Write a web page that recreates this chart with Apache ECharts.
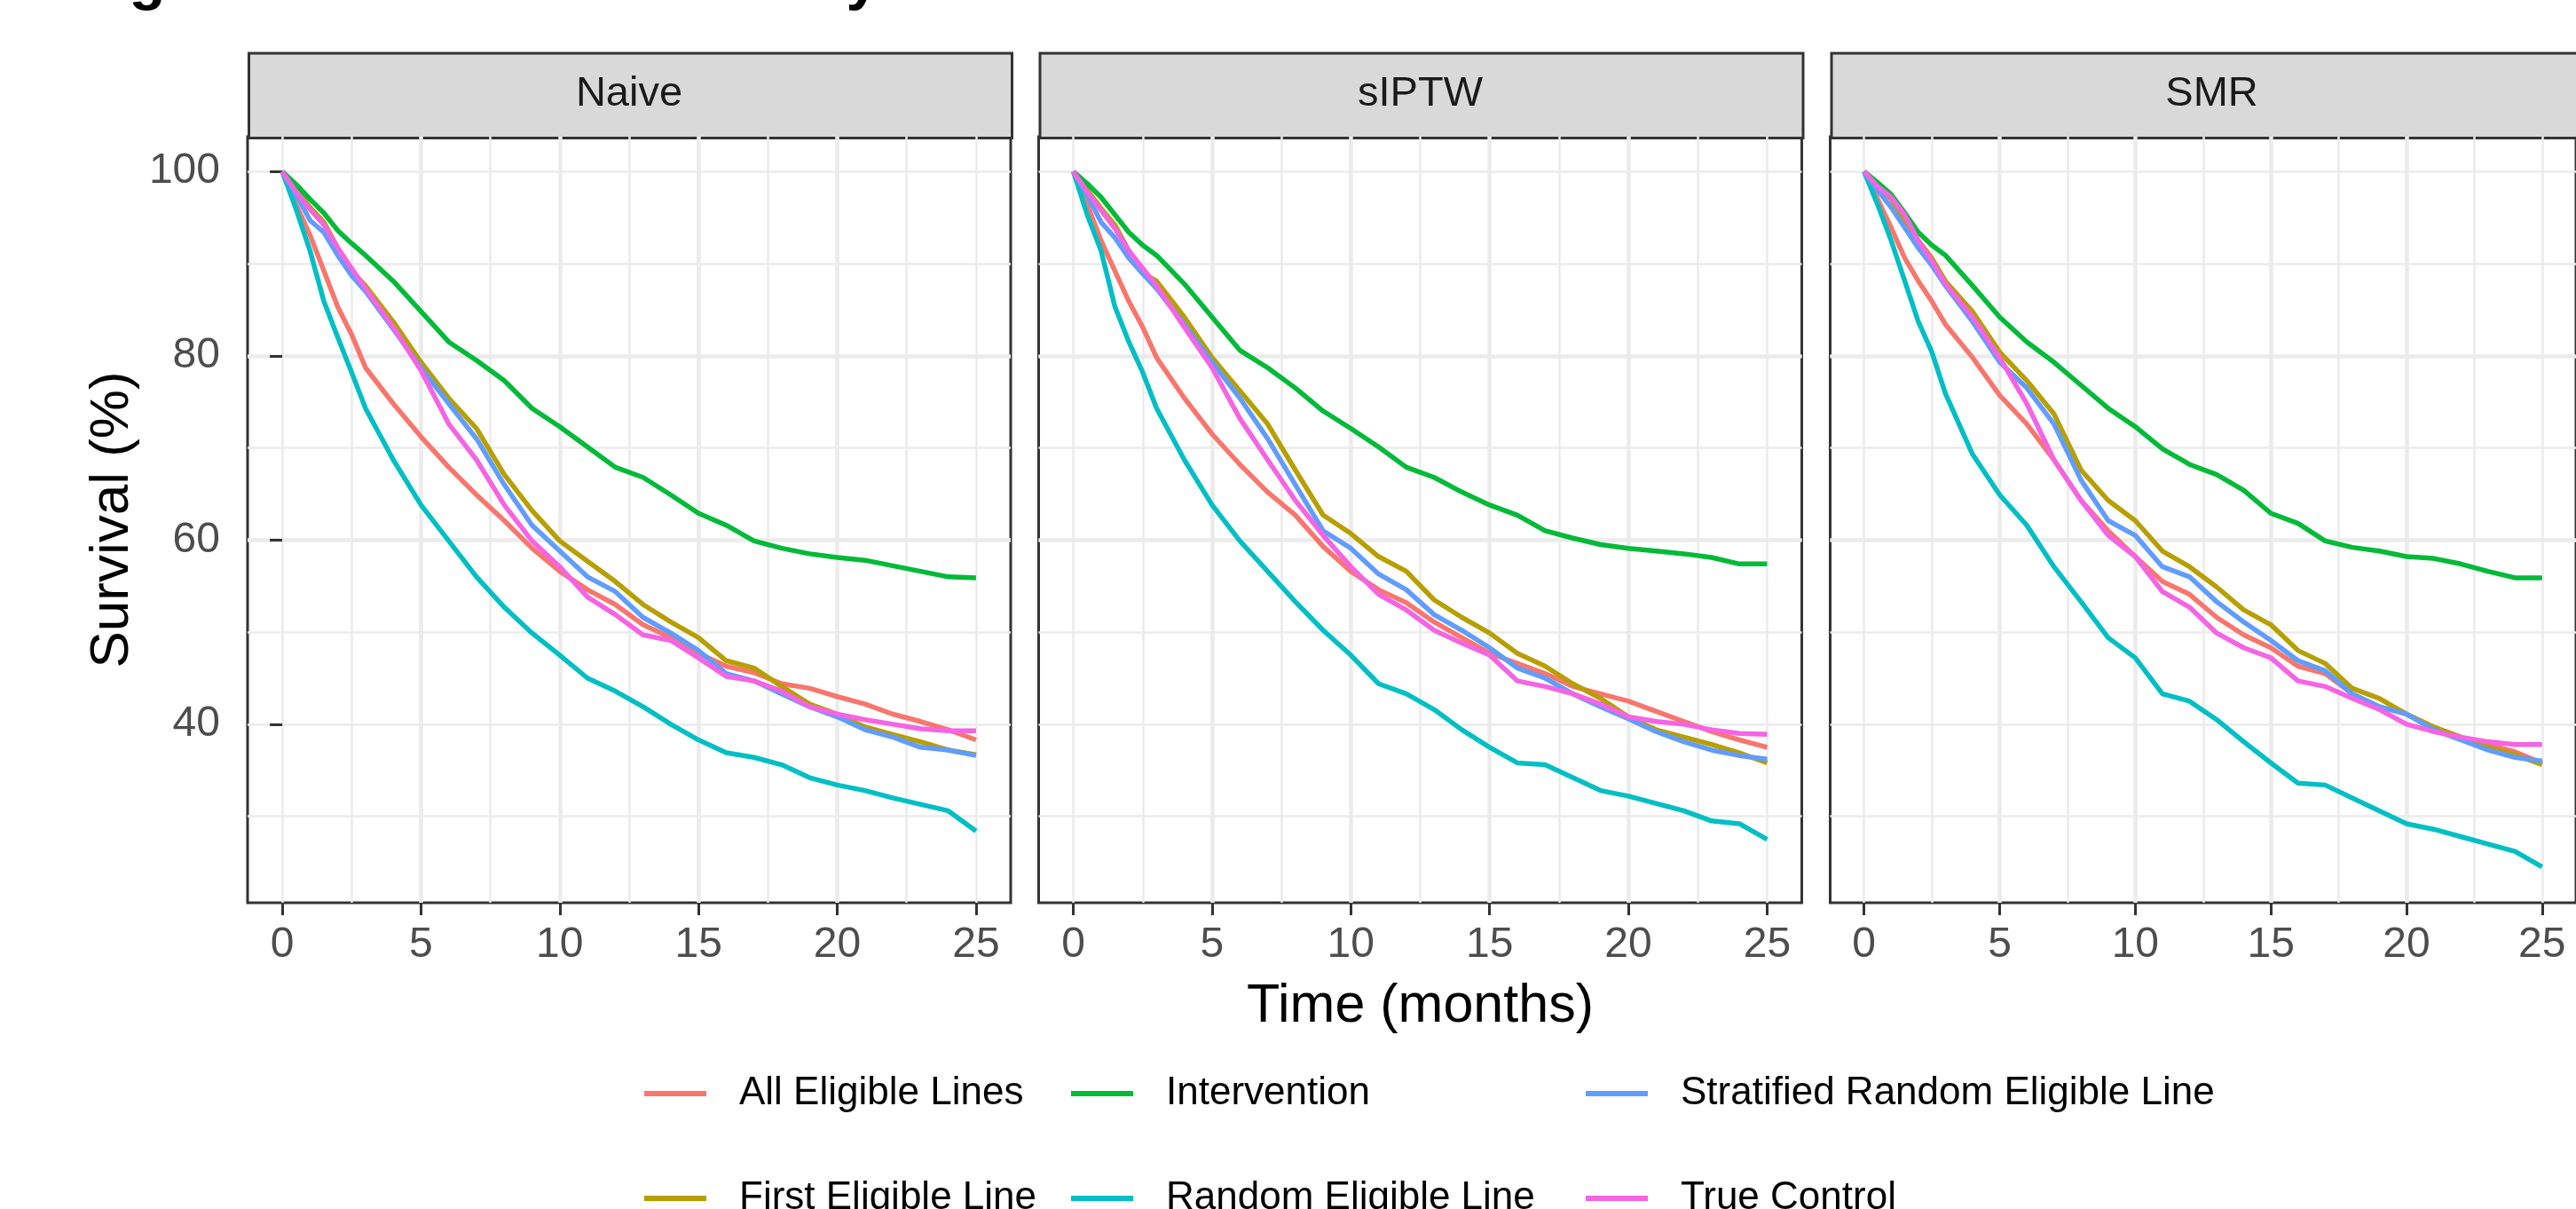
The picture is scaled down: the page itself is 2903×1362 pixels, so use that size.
<!DOCTYPE html>
<html>
<head>
<meta charset="utf-8">
<script src="https://cdn.jsdelivr.net/npm/echarts@6/dist/echarts.min.js"></script>
<style>
  html, body { margin: 0; padding: 0; background: #fff; }
  #chart { width: 2903px; height: 1362px; }
</style>
</head>
<body>
<div id="chart"></div>
<script>
// time points (months)
const times = [0, 0.5, 1, 1.5, 2, 2.5, 3, 4, 5, 6, 7, 8, 9, 10, 11, 12, 13, 14, 15, 16, 17, 18, 19, 20, 21, 22, 23, 24, 25];

const panels = ['Naive', 'sIPTW', 'SMR'];
const groups = ['All Eligible Lines', 'First Eligible Line', 'Intervention', 'Random Eligible Line', 'Stratified Random Eligible Line', 'True Control'];
const colors = ['#F8766D', '#B79F00', '#00BA38', '#00BFC4', '#619CFF', '#F564E3'];

const xTicks = [0, 5, 10, 15, 20, 25];
const yTicks = [40, 60, 80, 100];

// survival (%), one array per panel and group
const naiveAll = [100, 96.4, 93.1, 89.2, 85.3, 82.3, 78.7, 74.8, 71.2, 67.9, 64.9, 62.1, 59.1, 56.6, 54.6, 53.0, 50.8, 49.4, 47.7, 46.3, 45.6, 44.4, 43.9, 43.0, 42.2, 41.1, 40.3, 39.4, 38.3];
const naiveFirst = [100, 98.1, 96.1, 94.5, 91.7, 89.2, 87.6, 83.7, 79.3, 75.4, 72.1, 67.1, 63.2, 59.9, 57.7, 55.5, 53.0, 51.1, 49.4, 46.9, 46.1, 44.1, 42.2, 41.1, 39.7, 38.9, 38.1, 37.2, 36.7];
const naiveInterv = [100, 98.6, 97.0, 95.5, 93.6, 92.2, 90.9, 88.1, 84.8, 81.5, 79.5, 77.3, 74.3, 72.3, 70.1, 67.9, 66.8, 64.9, 62.9, 61.6, 59.9, 59.1, 58.5, 58.1, 57.8, 57.2, 56.6, 56.0, 55.9];
const naiveRandom = [100, 95.9, 91.4, 85.9, 82.0, 78.2, 74.3, 68.7, 63.8, 59.9, 56.0, 52.7, 49.9, 47.5, 45.0, 43.6, 41.9, 40.0, 38.3, 36.9, 36.4, 35.6, 34.2, 33.4, 32.8, 32.0, 31.3, 30.6, 28.4];
const naiveStrat = [100, 97.5, 94.7, 93.4, 90.9, 88.7, 87.0, 82.9, 78.7, 74.8, 71.0, 66.0, 61.6, 58.8, 56.0, 54.4, 51.6, 49.9, 48.0, 45.5, 44.7, 43.3, 41.9, 40.8, 39.4, 38.6, 37.5, 37.2, 36.6];
const naiveTrue = [100, 97.8, 95.9, 94.2, 91.7, 89.5, 87.3, 83.1, 78.4, 72.6, 68.7, 63.8, 59.9, 57.1, 53.8, 51.9, 49.7, 49.1, 47.2, 45.2, 44.7, 43.6, 41.9, 41.1, 40.5, 40.0, 39.5, 39.3, 39.3];

const iptwAll = [100, 96.4, 92.5, 89.2, 85.9, 83.1, 79.8, 75.4, 71.5, 68.2, 65.2, 62.7, 59.3, 56.6, 54.6, 53.2, 51.1, 49.4, 47.7, 46.6, 45.5, 44.1, 43.3, 42.5, 41.4, 40.3, 39.2, 38.3, 37.5];
const iptwFirst = [100, 98.0, 96.0, 94.2, 91.4, 89.0, 88.1, 84.2, 79.8, 76.2, 72.6, 67.6, 62.7, 60.7, 58.2, 56.6, 53.5, 51.6, 49.9, 47.7, 46.3, 44.4, 42.8, 40.8, 39.4, 38.6, 37.8, 36.9, 35.8];
const iptwInterv = [100, 98.7, 97.2, 95.3, 93.4, 92.0, 90.9, 87.8, 84.2, 80.6, 78.7, 76.5, 74.0, 72.1, 70.1, 67.9, 66.8, 65.2, 63.8, 62.7, 61.0, 60.2, 59.5, 59.1, 58.8, 58.5, 58.1, 57.4, 57.4];
const iptwRandom = [100, 95.3, 91.4, 85.3, 81.5, 78.2, 74.3, 68.7, 63.8, 59.9, 56.6, 53.3, 50.2, 47.5, 44.4, 43.3, 41.6, 39.4, 37.5, 35.8, 35.6, 34.2, 32.8, 32.2, 31.4, 30.6, 29.5, 29.2, 27.5];
const iptwStrat = [100, 97.4, 94.5, 92.8, 90.6, 88.9, 87.3, 83.4, 79.3, 75.4, 71.0, 66.0, 61.0, 59.1, 56.3, 54.6, 51.9, 50.2, 48.3, 46.1, 45.0, 43.3, 41.9, 40.6, 39.2, 38.1, 37.2, 36.6, 36.2];
const iptwTrue = [100, 97.8, 95.8, 93.8, 91.4, 89.5, 87.6, 83.1, 78.7, 73.2, 68.7, 64.3, 60.5, 57.1, 54.1, 52.4, 50.2, 48.8, 47.5, 44.7, 44.1, 43.3, 42.2, 40.8, 40.3, 40.0, 39.4, 39.0, 38.9];

const smrAll = [100, 97.0, 93.9, 90.6, 88.1, 85.9, 83.4, 79.8, 75.7, 72.6, 68.7, 64.3, 61.0, 58.2, 55.5, 54.1, 51.6, 49.7, 48.3, 46.3, 45.5, 43.3, 41.9, 41.1, 39.7, 38.6, 37.8, 37.0, 35.8];
const smrFirst = [100, 98.5, 97.0, 94.7, 92.5, 90.6, 88.1, 84.8, 80.4, 77.3, 73.7, 67.6, 64.3, 62.1, 58.8, 57.1, 54.9, 52.4, 50.8, 48.0, 46.6, 43.9, 42.8, 41.1, 39.7, 38.6, 37.5, 36.7, 35.6];
const smrInterv = [100, 98.8, 97.5, 95.5, 93.4, 92.0, 90.9, 87.6, 84.2, 81.5, 79.3, 76.8, 74.3, 72.3, 69.9, 68.2, 67.1, 65.4, 62.9, 61.8, 59.9, 59.2, 58.8, 58.2, 58.0, 57.4, 56.6, 55.9, 55.9];
const smrRandom = [100, 96.4, 92.5, 88.1, 83.7, 80.4, 75.9, 69.3, 64.9, 61.6, 57.1, 53.3, 49.4, 47.2, 43.3, 42.5, 40.5, 38.1, 35.8, 33.6, 33.4, 32.0, 30.6, 29.2, 28.6, 27.8, 27.0, 26.2, 24.5];
const smrStrat = [100, 98.0, 96.1, 93.9, 91.7, 89.8, 87.6, 83.7, 79.3, 76.5, 72.6, 66.5, 62.1, 60.5, 57.1, 56.0, 53.3, 51.1, 49.1, 46.9, 45.8, 43.3, 41.9, 41.1, 39.4, 38.3, 37.2, 36.4, 36.0];
const smrTrue = [100, 98.4, 97.2, 95.3, 92.5, 90.3, 87.8, 84.2, 79.8, 74.8, 68.7, 64.3, 60.5, 58.2, 54.4, 52.7, 49.9, 48.3, 47.2, 44.7, 44.1, 42.8, 41.6, 40.0, 39.2, 38.6, 38.1, 37.8, 37.8];

const panelData = [
  [naiveAll, naiveFirst, naiveInterv, naiveRandom, naiveStrat, naiveTrue],
  [iptwAll, iptwFirst, iptwInterv, iptwRandom, iptwStrat, iptwTrue],
  [smrAll, smrFirst, smrInterv, smrRandom, smrStrat, smrTrue]
];

const FONT = '"Liberation Sans", Arial, sans-serif';
const gridLeft = [279, 1170.5, 2062.5];
const gridW = 860, gridTop = 154, gridH = 863;
const xMin = -1.25, xMax = 26.25, yMin = 20.62, yMax = 103.78;

const chart = echarts.init(document.getElementById('chart'), null, { renderer: 'canvas' });

const grids = [], xAxes = [], yAxes = [], series = [], graphics = [];

panels.forEach((name, k) => {
  grids.push({
    left: gridLeft[k], top: gridTop, width: gridW, height: gridH,
    show: true, backgroundColor: '#fff', borderColor: '#333333', borderWidth: 3
  });

  // major axis
  xAxes.push({
    gridIndex: k, type: 'value', min: xMin, max: xMax,
    minInterval: 5, maxInterval: 5,
    axisLine: { show: false },
    axisTick: { show: true, length: 14, customValues: xTicks, lineStyle: { color: '#333333', width: 3 } },
    axisLabel: { customValues: xTicks, fontSize: 48, color: '#4D4D4D', fontFamily: FONT, margin: 24 },
    splitLine: { show: true, showMinLine: false, showMaxLine: false, lineStyle: { color: '#EBEBEB', width: 4.5 } },
    name: k === 1 ? 'Time (months)' : '',
    nameLocation: 'middle', nameGap: 87,
    nameTextStyle: { fontSize: 61, color: '#000', fontFamily: FONT }
  });
  // minor grid lines
  xAxes.push({
    gridIndex: k, type: 'value', min: xMin, max: xMax, position: 'top',
    minInterval: 2.5, maxInterval: 2.5,
    axisLine: { show: false }, axisTick: { show: false }, axisLabel: { show: false },
    splitLine: { show: true, showMinLine: false, showMaxLine: false, lineStyle: { color: '#EBEBEB', width: 2.5 } }
  });

  yAxes.push({
    gridIndex: k, type: 'value', min: yMin, max: yMax,
    minInterval: 20, maxInterval: 20,
    axisLine: { show: false },
    axisTick: { show: k === 0, length: 14, customValues: yTicks, lineStyle: { color: '#333333', width: 3 } },
    axisLabel: { show: k === 0, customValues: yTicks, fontSize: 48, color: '#4D4D4D', fontFamily: FONT, margin: 31 },
    splitLine: { show: true, showMinLine: false, showMaxLine: false, lineStyle: { color: '#EBEBEB', width: 4.5 } },
    name: k === 0 ? 'Survival (%)' : '',
    nameLocation: 'middle', nameGap: 121,
    nameTextStyle: { fontSize: 62, color: '#000', fontFamily: FONT }
  });
  yAxes.push({
    gridIndex: k, type: 'value', min: yMin, max: yMax, position: 'right',
    minInterval: 10, maxInterval: 10,
    axisLine: { show: false }, axisTick: { show: false }, axisLabel: { show: false },
    splitLine: { show: true, showMinLine: false, showMaxLine: false, lineStyle: { color: '#EBEBEB', width: 2.5 } }
  });

  groups.forEach((g, i) => {
    series.push({
      name: g, type: 'line',
      xAxisIndex: 2 * k, yAxisIndex: 2 * k,
      data: times.map((t, j) => [t, panelData[k][i][j]]),
      showSymbol: false, symbol: 'none',
      lineStyle: { color: colors[i], width: 5.5 },
      itemStyle: { color: colors[i] },
      z: 3
    });
  });

  // facet strip
  graphics.push({
    type: 'rect', left: gridLeft[k], top: 58.5,
    shape: { width: gridW, height: 95.5 },
    style: { fill: '#D9D9D9', stroke: '#333333', lineWidth: 3 }
  });
  graphics.push({
    type: 'text', x: gridLeft[k] + gridW / 2, y: 106,
    style: { text: name, fontSize: 47, fontFamily: FONT, fill: '#1A1A1A', align: 'center', verticalAlign: 'middle' }
  });
});

// title, mostly above the visible area
graphics.push({
  type: 'text', x: 86, y: -20,
  style: { text: 'Figure 3: Survival Curves by Method', fontSize: 67, fontWeight: 'bold', fontFamily: FONT, fill: '#000', verticalAlign: 'middle' }
});

const legendBase = {
  orient: 'vertical', top: 1207, height: 400, itemGap: 68, padding: 0,
  icon: 'rect', itemWidth: 70, itemHeight: 6, selectedMode: false,
  textStyle: { fontSize: 44, color: '#000', fontFamily: FONT, lineHeight: 50, padding: [0, 0, 0, 32] }
};
const legends = [
  Object.assign({}, legendBase, { left: 726, data: groups.slice(0, 2) }),
  Object.assign({}, legendBase, { left: 1207, data: groups.slice(2, 4) }),
  Object.assign({}, legendBase, { left: 1787, data: groups.slice(4, 6) })
];

chart.setOption({
  animation: false,
  backgroundColor: '#fff',
  grid: grids,
  xAxis: xAxes,
  yAxis: yAxes,
  legend: legends,
  graphic: graphics,
  series: series
});
</script>
</body>
</html>
